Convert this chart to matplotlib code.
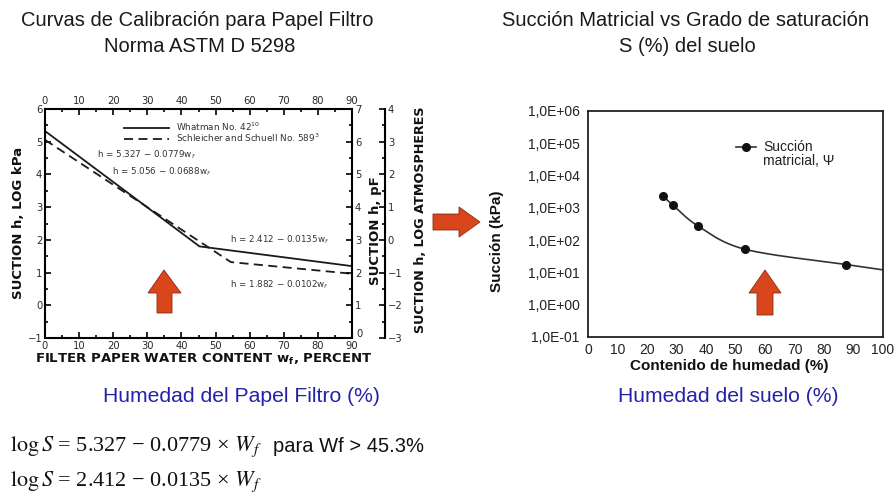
import numpy as np
import matplotlib
matplotlib.use("Agg")
import matplotlib.pyplot as plt
import matplotlib.transforms as mtransforms
from matplotlib.patches import Polygon
from matplotlib.lines import Line2D
from matplotlib.ticker import MultipleLocator, FixedLocator, FixedFormatter
from matplotlib import font_manager

# ---------------- data ----------------
# Left chart: calibration curves (vertices)
whatman_w = [0, 45.3, 90]
whatman_h = [5.327, 1.80, 1.197]
schleicher_w = [0, 54.5, 90]
schleicher_h = [5.056, 1.32, 0.964]
left_xticks = [0, 10, 20, 30, 40, 50, 60, 70, 80, 90]
left_yticks = [-1, 0, 1, 2, 3, 4, 5, 6]
pf_ticks = [0, 1, 2, 3, 4, 5, 6, 7]
atm_ticks = [-3, -2, -1, 0, 1, 2, 3, 4]
eq_labels = ["h = 5.327 \u2212 0.0779w$_f$", "h = 5.056 \u2212 0.0688w$_f$",
             "h = 2.412 \u2212 0.0135w$_f$", "h = 1.882 \u2212 0.0102w$_f$"]

# Right chart: matric suction vs water content
humedad = [25.4, 28.8, 37.4, 53.3, 87.6]
succion = [2300, 1220, 270, 52, 17.5]
curva_fin_x = 100
curva_fin_y = 12
right_xticks = [0, 10, 20, 30, 40, 50, 60, 70, 80, 90, 100]
right_yticks = [1e-1, 1e0, 1e1, 1e2, 1e3, 1e4, 1e5, 1e6]
right_ylabels = ["1,0E-01", "1,0E+00", "1,0E+01", "1,0E+02", "1,0E+03",
                 "1,0E+04", "1,0E+05", "1,0E+06"]

# ---------------- fonts ----------------
avail = {f.name for f in font_manager.fontManager.ttflist}
narrow = "Liberation Sans Narrow" if "Liberation Sans Narrow" in avail else "Liberation Sans"
arial = "Liberation Sans"
verdana = "DejaVu Sans"

W, H = 894, 493
fig = plt.figure(figsize=(W / 100, H / 100), dpi=100)
fig.patch.set_facecolor("white")


def frac(x0, y0, x1, y1):
    return [x0 / W, 1 - y1 / H, (x1 - x0) / W, (y1 - y0) / H]


dark = "#2a2a2a"

# ---------------- left chart ----------------
ax1 = fig.add_axes(frac(45, 109, 352, 338))
ax1.plot(whatman_w, whatman_h, color="#1a1a1a", lw=1.3, solid_joinstyle="miter")
ax1.plot(schleicher_w, schleicher_h, color="#1a1a1a", lw=1.3, ls=(0, (5, 3)))
ax1.set_xlim(0, 90)
ax1.set_ylim(-1, 6)
ax1.xaxis.set_major_locator(FixedLocator(left_xticks))
ax1.xaxis.set_minor_locator(MultipleLocator(5))
ax1.yaxis.set_major_locator(FixedLocator(left_yticks))
ax1.yaxis.set_minor_locator(MultipleLocator(0.5))
ax1.tick_params(axis="both", which="both", direction="in", top=True, right=False,
                labeltop=True, labelsize=7.2, labelcolor=dark, width=1.2, pad=2,
                labelfontfamily=verdana)
ax1.tick_params(which="major", length=4)
ax1.tick_params(which="minor", length=2.5)
for s in ax1.spines.values():
    s.set_linewidth(1.5)

# pF axis
ax_pf = ax1.twinx()
ax_pf.set_ylim(0, 7)
ax_pf.yaxis.set_major_locator(FixedLocator(pf_ticks))
ax_pf.yaxis.set_minor_locator(MultipleLocator(0.5))
ax_pf.tick_params(axis="y", which="both", direction="in", labelsize=7.2, labelcolor=dark,
                  width=1.2, pad=2, labelfontfamily=verdana)
ax_pf.tick_params(which="major", length=4)
ax_pf.tick_params(which="minor", length=2.5)
for s in ax_pf.spines.values():
    s.set_visible(False)
# the corner "0" sits a little above/right of the bottom "90" (as in the reference)
corner = ax_pf.yaxis.get_major_ticks()[0].label2
corner.set_transform(corner.get_transform() +
                     mtransforms.ScaledTranslation(2 / 100, 5 / 100, fig.dpi_scale_trans))

# log atmospheres axis
ax_atm = ax1.twinx()
ax_atm.set_ylim(-3, 4)
ax_atm.spines["right"].set_position(("axes", (385 - 45) / 307))
for k in ["left", "top", "bottom"]:
    ax_atm.spines[k].set_visible(False)
ax_atm.spines["right"].set_linewidth(1.5)
ax_atm.yaxis.set_major_locator(FixedLocator(atm_ticks))
ax_atm.yaxis.set_minor_locator(MultipleLocator(0.5))
ax_atm.tick_params(axis="y", which="both", direction="in", labelsize=7.2, labelcolor=dark,
                   width=1.2, pad=2, labelfontfamily=verdana)
ax_atm.tick_params(which="major", length=4)
ax_atm.tick_params(which="minor", length=2.5)

# equations on the left chart
eq_pos = [(15.2, 4.59), (19.6, 4.07), (54.2, 2.0), (54.2, 0.62)]
for (x, y), t in zip(eq_pos, eq_labels):
    ax1.text(x, y, t, fontsize=6.3, color="#333333", va="center", ha="left",
             family=verdana)

leg1 = ax1.legend(
    [Line2D([], [], color="#1a1a1a", lw=1.3),
     Line2D([], [], color="#1a1a1a", lw=1.3, ls=(0, (5, 3)))],
    ["Whatman No. 42$^{10}$", "Schleicher and Schuell No. 589$^{3}$"],
    loc="upper left", bbox_to_anchor=((120 - 45) / 307, (338 - 116) / 229),
    frameon=False, labelspacing=-0.12, handlelength=5.0,
    handletextpad=0.8, borderpad=0, labelcolor="#333333",
    prop={"family": verdana, "size": 6.4})

# ---------------- right chart ----------------
ax2 = fig.add_axes(frac(588, 111, 883, 337))
ax2.set_yscale("log")
ax2.set_xlim(0, 100)
ax2.set_ylim(1e-1, 1e6)

# smooth (Catmull-Rom in x / log y) line like a spreadsheet smoothed line
px = np.array(humedad + [curva_fin_x], dtype=float)
py = np.log10(np.array(succion + [curva_fin_y], dtype=float))
P = np.column_stack([px, py])
P = np.vstack([2 * P[0] - P[1], P, 2 * P[-1] - P[-2]])
cx, cy = [], []
for i in range(1, len(P) - 2):
    p0, p1, p2, p3 = P[i - 1], P[i], P[i + 1], P[i + 2]
    t = np.linspace(0, 1, 30)[:, None]
    c = 0.5 * ((2 * p1) + (-p0 + p2) * t + (2 * p0 - 5 * p1 + 4 * p2 - p3) * t ** 2
               + (-p0 + 3 * p1 - 3 * p2 + p3) * t ** 3)
    cx.extend(c[:, 0]); cy.extend(c[:, 1])
ax2.plot(cx, 10 ** np.array(cy), color="#333333", lw=1.2)
ax2.plot(humedad, succion, "o", color="#111111", ms=5.5)

ax2.xaxis.set_major_locator(FixedLocator(right_xticks))
ax2.yaxis.set_major_locator(FixedLocator(right_yticks))
ax2.yaxis.set_major_formatter(FixedFormatter(right_ylabels))
ax2.yaxis.set_minor_locator(FixedLocator([]))
ax2.tick_params(axis="both", which="both", length=0, labelsize=10, labelcolor="#222222",
                labelfontfamily=arial)
ax2.tick_params(axis="y", pad=6)
ax2.tick_params(axis="x", pad=4)
for s in ax2.spines.values():
    s.set_linewidth(1.3)
    s.set_color("#222222")

# ---------------- overlay: texts and arrows ----------------
ov = fig.add_axes([0, 0, 1, 1], zorder=10)
ov.set_xlim(0, W)
ov.set_ylim(H, 0)
ov.axis("off")
ov.patch.set_alpha(0)

# legend of the right chart
ov.add_line(Line2D([736, 756], [147, 147], color="#333333", lw=1.2))
ov.add_line(Line2D([746], [147], marker="o", ms=5.5, color="#111111", lw=0))
ov.text(763, 147, "Succi\u00f3n", ha="left", va="center", family=arial, fontsize=10,
        color="#222222")
ov.text(763, 161, "matricial, \u03a8", ha="left", va="center", family=arial, fontsize=10,
        color="#222222")

tkw = dict(ha="center", va="center", color="#1a1a1a", family=narrow, fontsize=14.5)
ov.text(197, 21, "Curvas de Calibraci\u00f3n para Papel Filtro", **tkw)
ov.text(200, 46, "Norma ASTM D 5298", **tkw)
ov.text(686, 21, "Succi\u00f3n Matricial vs Grado de saturaci\u00f3n", **tkw)
ov.text(687, 46, "S (%) del suelo", **tkw)

bkw = dict(ha="center", va="center", color="#2323a8", family=narrow, fontsize=15.2)
ov.text(241, 397, "Humedad del Papel Filtro (%)", **bkw)
ov.text(728, 397, "Humedad del suelo (%)", **bkw)

lkw = dict(ha="center", va="center", color="#111111", family=verdana,
           fontweight="bold", fontsize=9.5)
ov.text(204, 359, "FILTER PAPER WATER CONTENT w$_\\mathbf{f}$, PERCENT", **lkw)
ov.text(19, 223, "SUCTION h, LOG kPa", rotation=90, **lkw)
ov.text(375, 231, "SUCTION h, pF", rotation=90, **lkw)
ov.text(421, 220, "SUCTION h, LOG ATMOSPHERES", rotation=90,
        **{**lkw, "fontsize": 9.2})

akw = dict(ha="center", va="center", color="#111111", family=arial,
           fontweight="bold", fontsize=11)
ov.text(729, 366, "Contenido de humedad (%)", **akw)
ov.text(497, 241, "Succi\u00f3n (kPa)", rotation=90, **akw)

ekw = dict(ha="left", va="center", color="#111111", family="Liberation Serif",
           fontsize=16, math_fontfamily="stix")
ov.text(10, 447, "$\\log S$ = 5.327 \u2212 0.0779 \u00d7 $W_f$", **ekw)
ov.text(273, 447, "para Wf > 45.3%", ha="left", va="center", color="#111111",
        family=arial, fontsize=14.5)
ov.text(10, 482, "$\\log S$ = 2.412 \u2212 0.0135 \u00d7 $W_f$", **ekw)

arrow_col = "#d9461b"
edge_col = "#8a2a10"
up_left = [(157, 313), (172, 313), (172, 293), (181, 293), (164, 270), (148, 293), (157, 293)]
up_right = [(757, 315), (773, 315), (773, 293), (781, 293), (765, 270), (749, 293), (757, 293)]
right_arr = [(433, 214), (459, 214), (459, 207), (480, 222), (459, 237), (459, 230), (433, 230)]
for pts in (up_left, up_right, right_arr):
    ov.add_patch(Polygon(pts, closed=True, facecolor=arrow_col, edgecolor=edge_col,
                         lw=0.6, joinstyle="miter"))

fig.savefig("out.png", dpi=100, facecolor="white")
